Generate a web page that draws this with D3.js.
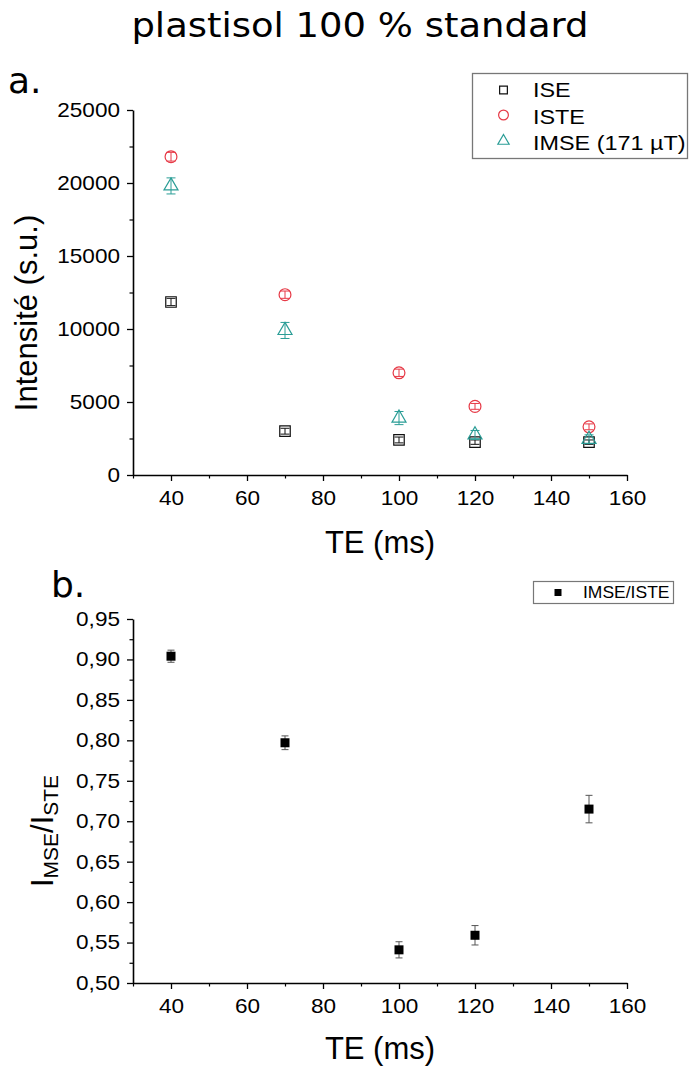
<!DOCTYPE html>
<html><head><meta charset="utf-8">
<script src="https://cdn.jsdelivr.net/npm/d3@7"></script>
<style>body{margin:0;background:#fff} svg{display:block}</style>
</head><body><svg id="c" width="689" height="1068"></svg>
<script>
// ---- data ----
const te = [40, 70, 100, 120, 150];
const ise = [11850, 3000, 2400, 2250, 2250];
const iseErr = [250, 200, 200, 150, 150];
const iste = [21800, 12350, 7000, 4700, 3300];
const isteErr = [300, 250, 250, 200, 200];
const imse = [19800, 9900, 3900, 2750, 2450];
const imseErr = [550, 550, 450, 300, 300];
const ratio = [0.904, 0.797, 0.541, 0.559, 0.715];
const ratioErr = [0.0075, 0.0085, 0.010, 0.012, 0.017];
const xTicks = [40, 60, 80, 100, 120, 140, 160];
const xMinor = [30, 50, 70, 90, 110, 130, 150];
const yTicksTop = [0, 5000, 10000, 15000, 20000, 25000];
const yMinorTop = [2500, 7500, 12500, 17500, 22500];
const yTicksBot = [0.50, 0.55, 0.60, 0.65, 0.70, 0.75, 0.80, 0.85, 0.90, 0.95];
const yMinorBot = [0.525, 0.575, 0.625, 0.675, 0.725, 0.775, 0.825, 0.875, 0.925];
const seriesNames = ["ISE", "ISTE", "IMSE (171 µT)"];
const ratioName = "IMSE/ISTE";
const title = "plastisol 100 % standard";

const RED = "#e63946", TEAL = "#2a9d96", BLACK = "#111";
const FONT = "'Liberation Sans', Arial, sans-serif";
const svg = d3.select("#c");

const x = d3.scaleLinear([30, 160], [133, 627]);
const yTop = d3.scaleLinear([0, 25000], [475, 110]);
const yBot = d3.scaleLinear([0.5, 0.95], [983, 619]);

const TK = 1.13; // horizontal stretch of tick label text
function styleAxis(g, left) {
  g.select(".domain").attr("stroke", "#000").attr("stroke-width", 1.6);
  g.selectAll(".tick line").attr("stroke", "#000").attr("stroke-width", 1.3);
  g.selectAll("text").attr("font-family", FONT).attr("font-size", 20).attr("fill", "#000")
    .attr("transform", `scale(${TK},1)`);
  if (left) g.selectAll("text").attr("x", -13 / TK);
}
function drawAxes(y, yT, yM, fmt) {
  const gx = svg.append("g").attr("transform", `translate(0,${y.range()[0]})`)
    .call(d3.axisBottom(x).tickValues(xTicks).tickSize(6).tickPadding(10).tickSizeOuter(0));
  styleAxis(gx, false);
  const gxm = svg.append("g").attr("transform", `translate(0,${y.range()[0]})`)
    .call(d3.axisBottom(x).tickValues(xMinor).tickSize(3.5).tickFormat("").tickSizeOuter(0));
  gxm.select(".domain").remove();
  gxm.selectAll(".tick line").attr("stroke", "#000").attr("stroke-width", 1.2);
  const gy = svg.append("g").attr("transform", `translate(${x.range()[0]},0)`)
    .call(d3.axisLeft(y).tickValues(yT).tickSize(6).tickPadding(7).tickSizeOuter(0).tickFormat(fmt));
  styleAxis(gy, true);
  const gym = svg.append("g").attr("transform", `translate(${x.range()[0]},0)`)
    .call(d3.axisLeft(y).tickValues(yM).tickSize(3.5).tickFormat("").tickSizeOuter(0));
  gym.select(".domain").remove();
  gym.selectAll(".tick line").attr("stroke", "#000").attr("stroke-width", 1.2);
}

// ---- title & panel labels ----
svg.append("text").attr("x", 360).attr("y", 37).attr("text-anchor", "middle")
  .attr("font-family", "'DejaVu Sans', sans-serif").attr("font-size", 33)
  .attr("transform", "translate(360,0) scale(1.12,1) translate(-360,0)")
  .text(title);
svg.append("text").attr("x", 8).attr("y", 93).attr("font-family", "'DejaVu Sans', sans-serif")
  .attr("font-size", 36).text("a.");
svg.append("text").attr("x", 51).attr("y", 597).attr("font-family", "'DejaVu Sans', sans-serif")
  .attr("font-size", 36).text("b.");

// ---- top panel ----
drawAxes(yTop, yTicksTop, yMinorTop, d3.format("d"));

svg.append("text").attr("transform", "translate(37,313) rotate(-90)")
  .attr("text-anchor", "middle").attr("font-family", FONT).attr("font-size", 31)
  .text("Intensité (s.u.)");
svg.append("text").attr("x", 380).attr("y", 553).attr("text-anchor", "middle")
  .attr("font-family", FONT).attr("font-size", 31).text("TE (ms)");

const topSeries = [
  {vals: ise, err: iseErr, color: BLACK, sym: d3.symbolSquare, size: 110},
  {vals: iste, err: isteErr, color: RED, sym: d3.symbolCircle, size: 110},
  {vals: imse, err: imseErr, color: TEAL, sym: d3.symbolTriangle, size: 85}
];
topSeries.forEach(s => {
  const g = svg.append("g");
  te.forEach((t, i) => {
    const cx = x(t), y0 = yTop(s.vals[i] - s.err[i]), y1 = yTop(s.vals[i] + s.err[i]);
    g.append("line").attr("x1", cx).attr("x2", cx).attr("y1", y0).attr("y2", y1)
      .attr("stroke", s.color).attr("stroke-width", 1);
    [y0, y1].forEach(yy => g.append("line").attr("x1", cx - 4.5).attr("x2", cx + 4.5)
      .attr("y1", yy).attr("y2", yy).attr("stroke", s.color).attr("stroke-width", 1));
    g.append("path").attr("d", d3.symbol(s.sym, s.size)())
      .attr("transform", `translate(${cx},${yTop(s.vals[i])})`)
      .attr("fill", "none").attr("stroke", s.color).attr("stroke-width", 1.2);
  });
});

// top legend
svg.append("rect").attr("x", 472.5).attr("y", 73.5).attr("width", 215).attr("height", 85)
  .attr("fill", "#fff").attr("stroke", "#777").attr("stroke-width", 1.3);
const legY = [90, 115, 141], legBase = [97, 124, 150];
topSeries.forEach((s, i) => {
  svg.append("path").attr("d", d3.symbol(s.sym, i === 0 ? 60 : (i === 1 ? 75 : 55))())
    .attr("transform", `translate(503.5,${legY[i]})`)
    .attr("fill", "none").attr("stroke", s.color).attr("stroke-width", 1.2);
  svg.append("text").attr("x", 533 / 1.17).attr("y", legBase[i])
    .attr("transform", "scale(1.17,1)")
    .attr("font-family", FONT).attr("font-size", 20).text(seriesNames[i]);
});

// ---- bottom panel ----
drawAxes(yBot, yTicksBot, yMinorBot, v => d3.format(".2f")(v).replace(".", ","));

const ylab = svg.append("text").attr("transform", "translate(53,831) rotate(-90)")
  .attr("text-anchor", "middle").attr("font-family", FONT).attr("font-size", 31);
ylab.append("tspan").text("I");
ylab.append("tspan").attr("font-size", 21).attr("dy", 5).text("MSE");
ylab.append("tspan").attr("dy", -5).text("/I");
ylab.append("tspan").attr("font-size", 21).attr("dy", 5).text("STE");
svg.append("text").attr("x", 380).attr("y", 1059).attr("text-anchor", "middle")
  .attr("font-family", FONT).attr("font-size", 31).text("TE (ms)");

const gb = svg.append("g");
te.forEach((t, i) => {
  const cx = x(t), y0 = yBot(ratio[i] - ratioErr[i]), y1 = yBot(ratio[i] + ratioErr[i]);
  gb.append("line").attr("x1", cx).attr("x2", cx).attr("y1", y0).attr("y2", y1)
    .attr("stroke", "#555").attr("stroke-width", 1);
  [y0, y1].forEach(yy => gb.append("line").attr("x1", cx - 3.5).attr("x2", cx + 3.5)
    .attr("y1", yy).attr("y2", yy).attr("stroke", "#555").attr("stroke-width", 1));
  gb.append("path").attr("d", d3.symbol(d3.symbolSquare, 81)())
    .attr("transform", `translate(${cx},${yBot(ratio[i])})`).attr("fill", "#000");
});

// bottom legend
svg.append("rect").attr("x", 533.5).attr("y", 581.5).attr("width", 140).attr("height", 22)
  .attr("fill", "#fff").attr("stroke", "#777").attr("stroke-width", 1.2);
svg.append("path").attr("d", d3.symbol(d3.symbolSquare, 49)())
  .attr("transform", "translate(558,592.5)").attr("fill", "#000");
svg.append("text").attr("x", 583 / 1.06).attr("y", 598.5).attr("transform", "scale(1.06,1)")
  .attr("font-family", FONT).attr("font-size", 16.5).text(ratioName);
</script></body></html>
